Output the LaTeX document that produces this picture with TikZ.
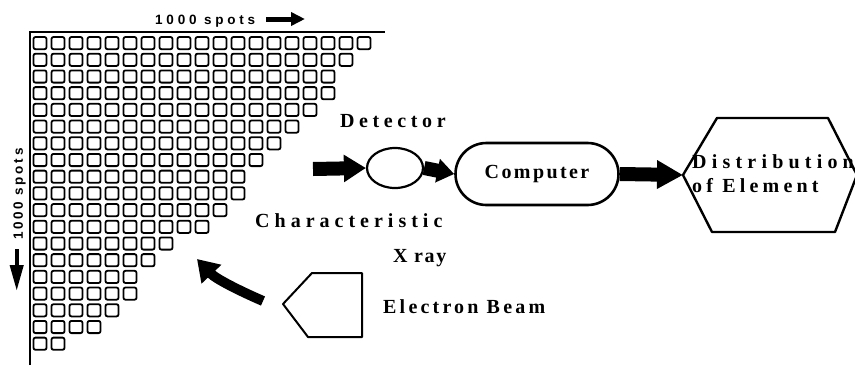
\documentclass[tikz,border=0pt]{standalone}
\usepackage{fontspec}
\setmainfont{Liberation Serif}
\newfontfamily\spotsfont{Liberation Sans}
\usetikzlibrary{arrows.meta,shapes.geometric,shapes.misc}
\newcommand{\spc}[1]{\addfontfeatures{LetterSpace=#1}}
\tikzset{
  lab/.style={anchor=base west, inner sep=0pt, font=\bfseries\fontsize{20}{22}\selectfont},
  spotlab/.style={anchor=base west, inner sep=0pt, font=\spotsfont\bfseries\fontsize{13.5}{15}\selectfont},
  cell/.style={draw, line width=1.8pt, rounded corners=2pt},
  frameline/.style={line width=2.2pt},
  outline/.style={draw, line width=2.4pt, line join=round},
  bigarrow/.style={line width=14pt, -{Triangle[length=22pt,width=26pt]}},
}
\begin{document}
\begin{tikzpicture}[x=1pt,y=-1pt]
\useasboundingbox[fill=white] (0,0) rectangle (855,365);

% grid of spots
\foreach \n [count=\r] in {19,18,17,17,16,15,14,13,12,12,11,10,8,7,6,6,5,4,2} {
  \foreach \c in {1,...,\n} {
    \draw[cell] ({33.5+18*(\c-1)},{37+16.7*(\r-1)}) rectangle ++(13,12.2);
  }
}
\draw[frameline] (30,365) -- (30,32) -- (385,32);

% axis labels
\node[spotlab] (topl) at (155,24) {\spc{28}1000 spots};
\coordinate (ta) at (266,19);
\coordinate (tb) at (305,19);
\draw[line width=5pt, -{Triangle[length=14pt,width=13pt]}] (ta) -- (tb);
\node[spotlab, rotate=90] (sidel) at (23,240) {\spc{20}1000 spots};
\coordinate (sa) at (16.7,249);
\coordinate (sb) at (16.7,291);
\draw[line width=4pt, -{Triangle[length=26pt,width=13pt]}] (sa) -- (sb);

% detector and computer
\node[lab] (detl) at (340,127) {\spc{23}Detector};
\node[ellipse, draw, line width=2.2pt, minimum width=56pt, minimum height=40pt, inner sep=0pt] (det) at (395,168) {};
\node[rounded rectangle, draw, line width=2.6pt, minimum width=163pt, minimum height=62pt, inner sep=0pt,
      font=\bfseries\fontsize{20}{22}\selectfont] (comp) at (537,174) {\spc{12}Computer};
\coordinate (xin) at (313,169);
\draw[bigarrow] (xin) -- (det.west);
\draw[line width=14pt, -{Triangle[length=17pt,width=23pt]}] (det.east) -- (comp.west);

% hexagon
\coordinate (hexL) at (683,175);
\coordinate (hexTL) at (717,118);
\coordinate (hexTR) at (828,118);
\coordinate (hexR) at (857,175);
\coordinate (hexBR) at (835,232);
\coordinate (hexBL) at (712,232);
\draw[outline] (hexL) -- (hexTL) -- (hexTR) -- (hexR) -- (hexBR) -- (hexBL) -- cycle;
\draw[line width=14pt, -{Triangle[length=26pt,width=27pt]}] (comp.east) -- (hexL);
\node[lab] (dist) at (692,168) {\spc{26}Distribution};
\node[lab] (elem) at (692,192) {\spc{21}of Element};

% x ray labels
\node[lab] (charl) at (255,227) {\spc{25}Characteristic};
\node[lab] (xray) at (393,262) {\spc{8}X ray};

% electron gun
\coordinate (gunL) at (283,304);
\coordinate (gunTL) at (312,273);
\coordinate (gunTR) at (362,273);
\coordinate (gunBR) at (362,337);
\coordinate (gunBL) at (308,337);
\draw[outline, line width=2pt] (gunL) -- (gunTL) -- (gunTR) -- (gunBR) -- (gunBL) -- cycle;
\node[lab] (beaml) at (383,313) {\spc{16}Electron Beam};
\coordinate (btail) at (263,301);
\coordinate (btip) at (197,259);
\draw[line width=10pt, -{Triangle[length=21pt,width=26pt]}] (btail) .. controls (240,291) and (216,279) .. (btip);
\end{tikzpicture}
\end{document}
